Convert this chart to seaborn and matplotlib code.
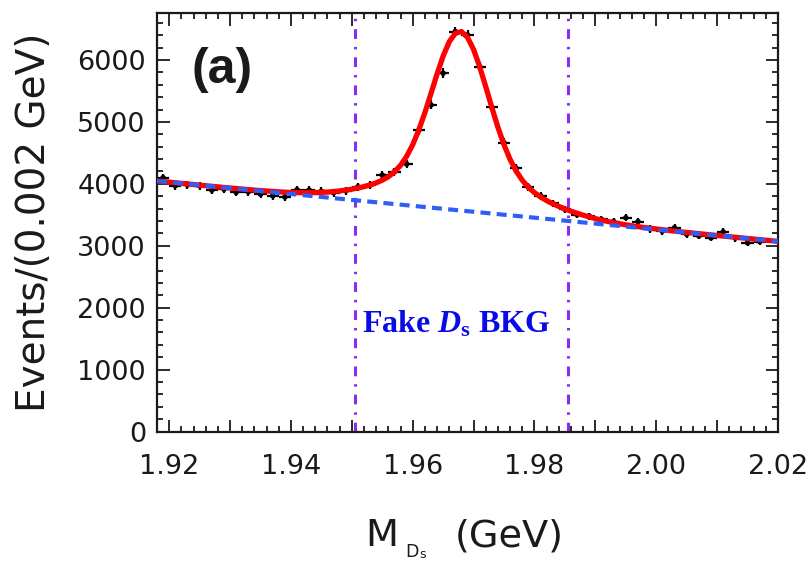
import numpy as np
import pandas as pd
import matplotlib
matplotlib.use("Agg")
import matplotlib.pyplot as plt
from matplotlib.ticker import MultipleLocator, FuncFormatter
import seaborn as sns

# Ds candidate mass spectrum, 0.002 GeV bins
bin_centers = [1.919, 1.921, 1.923, 1.925, 1.927, 1.929, 1.931, 1.933, 1.935, 1.937,
               1.939, 1.941, 1.943, 1.945, 1.947, 1.949, 1.951, 1.953, 1.955, 1.957,
               1.959, 1.961, 1.963, 1.965, 1.967, 1.969, 1.971, 1.973, 1.975, 1.977,
               1.979, 1.981, 1.983, 1.985, 1.987, 1.989, 1.991, 1.993, 1.995, 1.997,
               1.999, 2.001, 2.003, 2.005, 2.007, 2.009, 2.011, 2.013, 2.015, 2.017]
counts = [4100, 3969, 3981, 3969, 3898, 3913, 3862, 3872, 3832, 3807,
          3787, 3905, 3900, 3881, 3857, 3888, 3953, 3981, 4142, 4196,
          4320, 4865, 5275, 5788, 6461, 6408, 5895, 5238, 4665, 4251,
          3953, 3807, 3685, 3589, 3503, 3478, 3427, 3392, 3453, 3392,
          3271, 3235, 3291, 3185, 3159, 3129, 3225, 3124, 3048, 3068]

# total fit (signal + background)
fit_x = [1.918, 1.922, 1.926, 1.930, 1.934, 1.938, 1.940, 1.942, 1.944, 1.946, 1.948,
         1.950, 1.951, 1.952, 1.953, 1.954, 1.955, 1.956, 1.957, 1.958, 1.959,
         1.960, 1.961, 1.962, 1.963, 1.964, 1.965, 1.966, 1.967, 1.968, 1.969,
         1.970, 1.971, 1.972, 1.973, 1.974, 1.975, 1.976, 1.977, 1.978, 1.979,
         1.980, 1.981, 1.982, 1.983, 1.984, 1.985, 1.986, 1.988, 1.990, 1.992,
         1.994, 1.996, 1.998, 2.000, 2.004, 2.008, 2.012, 2.016, 2.020]
fit_total = [4047, 4009, 3970, 3933, 3899, 3871, 3861, 3857, 3858, 3867, 3886,
             3914, 3933, 3955, 3983, 4016, 4060, 4115, 4194, 4299, 4444,
             4632, 4870, 5150, 5459, 5774, 6065, 6295, 6432, 6460, 6367,
             6170, 5893, 5569, 5233, 4913, 4630, 4394, 4205, 4058, 3944,
             3858, 3788, 3730, 3680, 3636, 3596, 3558, 3494, 3439, 3393,
             3355, 3323, 3295, 3271, 3226, 3186, 3147, 3109, 3071]

# linear background component
bkg_x = [1.918, 2.020]
bkg_y = [4047, 3071]

# signal window boundaries
window_edges = [1.9505, 1.9855]

sns.set_theme(style="ticks")
plt.rcParams["font.family"] = ["DejaVu Sans"]
plt.rcParams["mathtext.fontset"] = "custom"
plt.rcParams["mathtext.rm"] = "Liberation Serif:bold"
plt.rcParams["mathtext.bf"] = "Liberation Serif:bold"
plt.rcParams["mathtext.it"] = "Liberation Serif:bold:italic"

W, H = 810, 565
fig = plt.figure(figsize=(W / 100, H / 100), dpi=100)
fig.patch.set_facecolor("white")
ax = fig.add_axes([157 / W, 1 - 431.5 / H, (778 - 157) / W, (431.5 - 13) / H])
ax.set_facecolor("white")

pts = pd.DataFrame({"mass": bin_centers, "events": counts})
fit = pd.DataFrame({"mass": fit_x, "events": fit_total})
bkg = pd.DataFrame({"mass": bkg_x, "events": bkg_y})

# data with statistical errors and bin-width bars
ax.errorbar(pts["mass"], pts["events"], xerr=0.001, yerr=np.sqrt(pts["events"]),
            fmt="none", ecolor="black", elinewidth=1.6, capsize=0, zorder=2)
sns.scatterplot(data=pts, x="mass", y="events", color="black", s=16,
                edgecolor="none", zorder=2, ax=ax, legend=False)

sns.lineplot(data=fit, x="mass", y="events", color="#ff0000", lw=3.8,
             zorder=3, ax=ax, legend=False)
sns.lineplot(data=bkg, x="mass", y="events", color="#2f5ef5", lw=3.0,
             linestyle=(0, (2.4, 1.5)), zorder=4, ax=ax, legend=False)

for edge in window_edges:
    ax.axvline(edge, color="#8a2cf2", lw=2.2, linestyle=(0, (3.2, 2.6, 0.8, 2.6)),
               zorder=1)

ax.set_xlim(1.918, 2.020)
ax.set_ylim(0, 6760)

ax.xaxis.set_major_locator(MultipleLocator(0.01))
ax.xaxis.set_minor_locator(MultipleLocator(0.002))
ax.yaxis.set_major_locator(MultipleLocator(1000))
ax.yaxis.set_minor_locator(MultipleLocator(200))


def xfmt(v, pos):
    k = int(round(v / 0.01))
    return f"{v:.2f}" if k % 2 == 0 else ""


ax.xaxis.set_major_formatter(FuncFormatter(xfmt))
ax.yaxis.set_major_formatter(FuncFormatter(lambda v, p: f"{int(round(v))}"))

ax.tick_params(which="both", direction="in", top=True, right=True,
               color="#1a1a1a", width=1.3)
ax.tick_params(which="major", length=9, labelsize=19.5, labelcolor="#1a1a1a")
ax.tick_params(which="minor", length=4.5)
ax.tick_params(axis="y", which="major", pad=8)
ax.tick_params(axis="x", which="major", pad=16)
for sp in ax.spines.values():
    sp.set_linewidth(1.6)
    sp.set_color("#1a1a1a")

ax.set_xlabel("")
ax.set_ylabel("Events/(0.002 GeV)", fontsize=28, color="#1a1a1a")
ax.yaxis.set_label_coords(-0.168, 0.5)

# x-axis title built from pieces so the subscript can be small
fig.text(365 / W, 1 - 546 / H, "M", fontsize=27.5, color="#1a1a1a",
         ha="left", va="baseline")
fig.text(405 / W, 1 - 557 / H, "D", fontsize=12.5, color="#1a1a1a",
         ha="left", va="baseline")
fig.text(419.5 / W, 1 - 558 / H, "s", fontsize=9, color="#1a1a1a",
         ha="left", va="baseline")
fig.text(455 / W, 1 - 546 / H, "(GeV)", fontsize=27.5, color="#1a1a1a",
         ha="left", va="baseline")

ax.text(0.056, 0.833, "(a)", transform=ax.transAxes, fontsize=36,
        fontweight="bold", family="Liberation Sans", color="#1a1a1a",
        ha="left", va="baseline")
ax.text(0.330, 0.236, r"Fake $D_\mathrm{s}$ BKG", transform=ax.transAxes,
        fontsize=23, fontweight="bold", family="Liberation Serif",
        color="#0a0ae6", ha="left", va="baseline")

fig.savefig("out.png", dpi=100, facecolor="white")
